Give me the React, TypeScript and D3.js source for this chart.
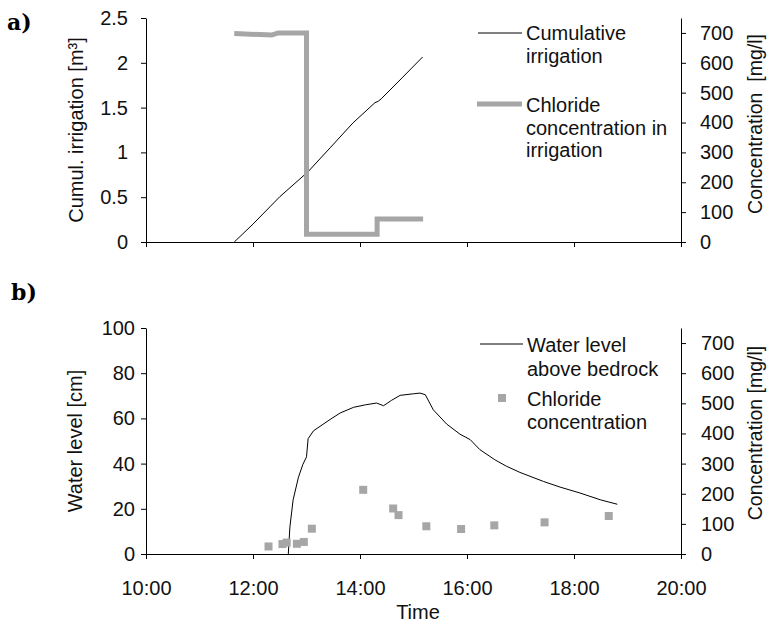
import React, { useEffect, useRef } from "react"
import * as d3 from "d3"

// panel a) cumulative irrigation [m3] vs time (decimal hours)
const irrigTime = [11.65, 12.0, 12.5, 13.03, 13.44, 13.87, 14.28, 14.34, 14.4, 14.8, 15.17]
const irrigCum = [0, 0.2, 0.505, 0.785, 1.05, 1.33, 1.555, 1.57, 1.6, 1.84, 2.065]

// panel a) chloride concentration in irrigation [mg/l]
const clIrrTime = [11.65, 12.35, 12.47, 13.0, 13.0, 14.32, 14.32, 15.18]
const clIrrConc = [698, 693, 700, 700, 26, 26, 77, 77]

// panel b) water level above bedrock [cm]
const wlTime = [12.66, 12.69, 12.75, 12.85, 12.93, 13.0, 13.03, 13.13, 13.44, 13.63, 13.88, 14.1, 14.31, 14.44, 14.59, 14.75, 15.0, 15.12, 15.22, 15.37, 15.62, 15.87, 16.06, 16.24, 16.52, 16.74, 16.99, 17.43, 17.74, 18.11, 18.49, 18.81]
const wlLevel = [0, 12, 24, 34, 39.5, 43, 51, 54.5, 59.5, 62.4, 64.9, 66, 66.8, 65.6, 68, 70.2, 70.9, 71.2, 70.5, 63.8, 57.5, 53, 50.6, 46.2, 41.7, 38.8, 36.1, 32.1, 29.6, 27, 24, 22]

// panel b) chloride concentration samples [mg/l]
const clTime = [12.29, 12.55, 12.63, 12.82, 12.95, 13.1, 14.06, 14.62, 14.72, 15.24, 15.89, 16.51, 17.45, 18.65]
const clConc = [25, 33, 38, 34, 40, 84, 213, 151, 129, 92, 83, 95, 105, 126]

const timeTicks = [10, 12, 14, 16, 18, 20]
const irrigTicks = [0, 0.5, 1, 1.5, 2, 2.5]
const levelTicks = [0, 20, 40, 60, 80, 100]
const concTicks = [0, 100, 200, 300, 400, 500, 600, 700]

const legendA = [["Cumulative", "irrigation"], ["Chloride", "concentration in", "irrigation"]]
const legendB = [["Water level", "above bedrock"], ["Chloride", "concentration"]]

const FONT = "'Liberation Sans', Arial, sans-serif"
const GREY = "#a6a6a6"
const FS = 20

const App = () => {
    const ref = useRef<SVGSVGElement>(null)

    useEffect(() => {
        const svg = d3.select(ref.current)
        svg.selectAll("*").remove()

        const x = d3.scaleLinear().domain([10, 20]).range([146, 681])

        const styleAxis = (g: any, size: number) => {
            g.selectAll("path").attr("stroke", "#000")
            g.selectAll("line").attr("stroke", "#000")
            g.selectAll("text").attr("font-family", FONT).attr("font-size", size).attr("fill", "#111")
        }
        const label = (t: string, x0: number, y0: number) =>
            svg.append("text").text(t).attr("x", x0).attr("y", y0)
                .attr("font-family", FONT).attr("font-size", FS).attr("fill", "#111")

        // ---------- panel a ----------
        const yA = d3.scaleLinear().domain([0, 2.5]).range([242, 18])
        const yAr = d3.scaleLinear().domain([0, 750]).range([242, 18])

        svg.append("g").attr("transform", "translate(0,242)")
            .call(d3.axisBottom(x).tickValues(timeTicks).tickSize(5).tickSizeOuter(0).tickFormat(() => ""))
            .call(g => styleAxis(g, FS))
        svg.append("g").attr("transform", "translate(146,0)")
            .call(d3.axisLeft(yA).tickValues(irrigTicks).tickSize(5).tickSizeOuter(0).tickPadding(13).tickFormat(d => String(d)))
            .call(g => styleAxis(g, FS))
        svg.append("g").attr("transform", "translate(681,0)")
            .call(d3.axisRight(yAr).tickValues(concTicks).tickSize(5).tickSizeOuter(0).tickPadding(14))
            .call(g => styleAxis(g, FS))

        const lineA = d3.line<number>().x((d, i) => x(irrigTime[i])).y(d => yA(d))
        svg.append("path").attr("d", lineA(irrigCum)).attr("fill", "none").attr("stroke", "#000").attr("stroke-width", 1)

        const lineCl = d3.line<number>().x((d, i) => x(clIrrTime[i])).y(d => yAr(d))
        svg.append("path").attr("d", lineCl(clIrrConc)).attr("fill", "none").attr("stroke", GREY).attr("stroke-width", 5)

        svg.append("text").text("a)").attr("x", 7).attr("y", 30)
            .attr("font-family", "'DejaVu Serif', serif").attr("font-weight", "bold").attr("font-size", 22)

        svg.append("text").attr("transform", "translate(83,130) rotate(-90)").attr("text-anchor", "middle")
            .attr("font-family", FONT).attr("font-size", FS).attr("fill", "#111")
            .text("Cumul. irrigation [m³]")
        svg.append("text").attr("transform", "translate(762,124) rotate(-90)").attr("text-anchor", "middle")
            .attr("font-family", FONT).attr("font-size", 19.5).attr("fill", "#111").style("white-space", "pre")
            .text("Concentration  [mg/l]")

        // legend a
        svg.append("line").attr("x1", 478).attr("x2", 522).attr("y1", 33).attr("y2", 33).attr("stroke", "#000").attr("stroke-width", 1)
        svg.append("line").attr("x1", 477).attr("x2", 522).attr("y1", 104).attr("y2", 104).attr("stroke", GREY).attr("stroke-width", 5)
        legendA[0].forEach((t, i) => label(t, 526, 40 + i * 23))
        legendA[1].forEach((t, i) => label(t, 526, 112 + i * 22.5))

        // ---------- panel b ----------
        const yB = d3.scaleLinear().domain([0, 100]).range([554, 328])
        const yBr = d3.scaleLinear().domain([0, 750]).range([554, 328])

        svg.append("g").attr("transform", "translate(0,554)")
            .call(d3.axisBottom(x).tickValues(timeTicks).tickSize(5).tickSizeOuter(0).tickPadding(22).tickFormat(d => d + ":00"))
            .call(g => styleAxis(g, FS))
        svg.append("g").attr("transform", "translate(146,0)")
            .call(d3.axisLeft(yB).tickValues(levelTicks).tickSize(5).tickSizeOuter(0).tickPadding(6))
            .call(g => styleAxis(g, FS))
        svg.append("g").attr("transform", "translate(681,0)")
            .call(d3.axisRight(yBr).tickValues(concTicks).tickSize(5).tickSizeOuter(0).tickPadding(15))
            .call(g => styleAxis(g, FS))

        const lineB = d3.line<number>().x((d, i) => x(wlTime[i])).y(d => yB(d))
        svg.append("path").attr("d", lineB(wlLevel)).attr("fill", "none").attr("stroke", "#000").attr("stroke-width", 1)

        svg.append("g").selectAll("rect").data(clConc).enter().append("rect")
            .attr("x", (d, i) => x(clTime[i]) - 4).attr("y", d => yBr(d) - 4)
            .attr("width", 8).attr("height", 8).attr("fill", GREY)

        svg.append("text").text("b)").attr("x", 11).attr("y", 300)
            .attr("font-family", "'DejaVu Serif', serif").attr("font-weight", "bold").attr("font-size", 22)

        svg.append("text").attr("transform", "translate(82,441) rotate(-90)").attr("text-anchor", "middle")
            .attr("font-family", FONT).attr("font-size", FS).attr("fill", "#111")
            .text("Water level [cm]")
        svg.append("text").attr("transform", "translate(762,433) rotate(-90)").attr("text-anchor", "middle")
            .attr("font-family", FONT).attr("font-size", 19.5).attr("fill", "#111")
            .text("Concentration [mg/l]")
        svg.append("text").attr("x", 418).attr("y", 619).attr("text-anchor", "middle")
            .attr("font-family", FONT).attr("font-size", FS).attr("fill", "#111")
            .text("Time")

        // legend b
        svg.append("line").attr("x1", 480).attr("x2", 523).attr("y1", 344).attr("y2", 344).attr("stroke", "#000").attr("stroke-width", 1)
        svg.append("rect").attr("x", 498).attr("y", 394).attr("width", 8).attr("height", 8).attr("fill", GREY)
        legendB[0].forEach((t, i) => label(t, 527, 352 + i * 23.5))
        legendB[1].forEach((t, i) => label(t, 527, 406 + i * 22.5))
    }, [])

    return <svg ref={ref} width={770} height={622} style={{ position: "absolute", left: 0, top: 0, background: "#fff" }} />
}

export default App
